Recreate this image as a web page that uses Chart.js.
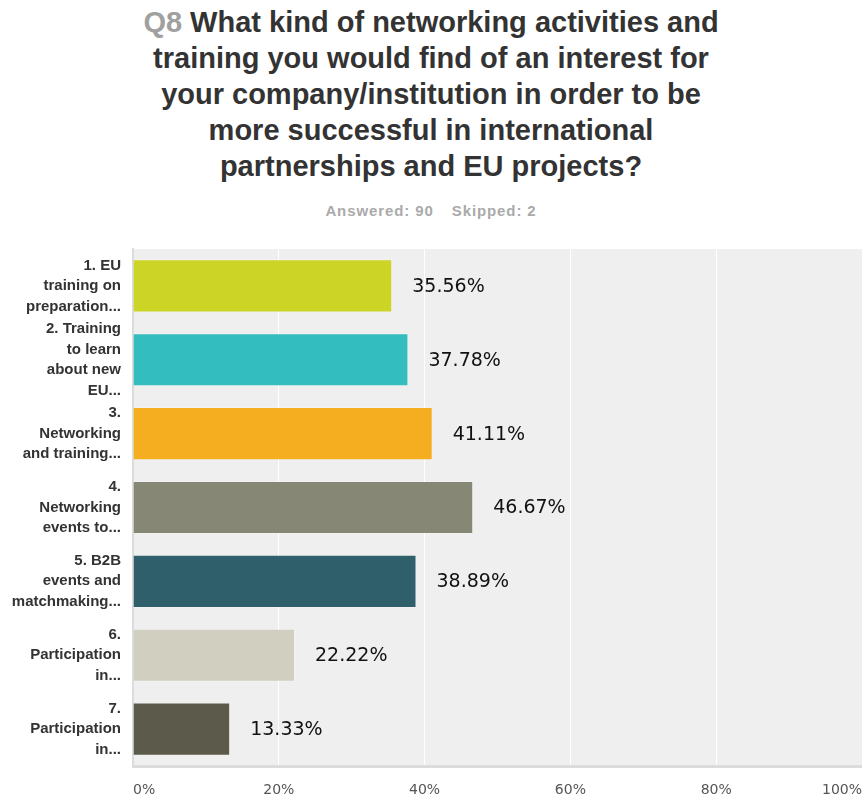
<!DOCTYPE html>
<html>
<head>
<meta charset="utf-8">
<script src="https://cdn.jsdelivr.net/npm/chart.js@4/dist/chart.umd.min.js"></script>
<style>
  html, body { margin: 0; padding: 0; background: #fff; }
  #page { position: relative; width: 862px; height: 798px; overflow: hidden; }
  #title {
    position: absolute; left: 0; top: 4px; width: 862px;
    text-align: center;
    font-family: "Liberation Sans", Arial, sans-serif;
    font-weight: bold; font-size: 29px; line-height: 36px;
    color: #333;
  }
  #title .qnum { color: #a0a0a0; }
  #stats {
    position: absolute; left: 0; top: 202px; width: 862px;
    text-align: center;
    font-family: "Liberation Sans", Arial, sans-serif;
    font-weight: bold; font-size: 15px; letter-spacing: 0.9px; color: #aaa;
  }
  #stats span + span { margin-left: 18px; }
  #wrap { position: absolute; left: 0; top: 240px; width: 862px; height: 558px; }
</style>
</head>
<body>
<div id="page">
  <div id="title"><span class="qnum">Q8</span> What kind of networking activities and<br>training you would find of an interest for<br>your company/institution in order to be<br>more successful in international<br>partnerships and EU projects?</div>
  <div id="stats"><span>Answered: 90</span><span>Skipped: 2</span></div>
  <div id="wrap"><canvas id="chart"></canvas></div>
</div>
<script>
// Answer choices (wrapped and truncated as shown on the axis)
const categories = [
  ["1. EU", "training on", "preparation..."],
  ["2. Training", "to learn", "about new", "EU..."],
  ["3.", "Networking", "and training..."],
  ["4.", "Networking", "events to..."],
  ["5. B2B", "events and", "matchmaking..."],
  ["6.", "Participation", "in..."],
  ["7.", "Participation", "in..."]
];
// Share of respondents choosing each option (%)
const percentages = [35.56, 37.78, 41.11, 46.67, 38.89, 22.22, 13.33];
const barColors = ["#ccd426", "#33bdbf", "#f5ae1f", "#878775", "#2e5f6b", "#d0cfc0", "#5b5a4b"];
const xTicks = [0, 20, 40, 60, 80, 100];

const plotBackground = {
  id: "plotBackground",
  beforeDraw(chart) {
    const { ctx, chartArea: a } = chart;
    ctx.save();
    ctx.fillStyle = "#efefef";
    ctx.fillRect(a.left, a.top, a.right - a.left, a.bottom - a.top);
    ctx.restore();
  }
};

const valueLabels = {
  id: "valueLabels",
  afterDatasetsDraw(chart) {
    const { ctx } = chart;
    const meta = chart.getDatasetMeta(0);
    ctx.save();
    ctx.font = '19px "DejaVu Sans", sans-serif';
    ctx.fillStyle = "#111";
    ctx.textAlign = "left";
    ctx.textBaseline = "middle";
    meta.data.forEach((bar, i) => {
      ctx.fillText(percentages[i].toFixed(2) + "%", bar.x + 20, bar.y + 1);
    });
    ctx.restore();
  }
};

new Chart(document.getElementById("chart"), {
  type: "bar",
  data: {
    labels: categories,
    datasets: [{
      data: percentages,
      backgroundColor: barColors,
      borderColor: "rgba(255,255,255,0.22)",
      borderWidth: 1,
      categoryPercentage: 1,
      barPercentage: 0.72
    }]
  },
  options: {
    indexAxis: "y",
    responsive: true,
    maintainAspectRatio: false,
    animation: false,
    layout: { padding: { top: 9, right: 0, bottom: 0, left: 0 } },
    plugins: {
      legend: { display: false },
      tooltip: { enabled: false }
    },
    scales: {
      x: {
        min: 0,
        max: 100,
        afterBuildTicks(scale) { scale.ticks = xTicks.map(v => ({ value: v })); },
        afterFit(scale) {
          scale.height = 32;
          scale.paddingLeft = 0;
          scale.paddingRight = 0;
        },
        grid: { color: "#ffffff", lineWidth: 1, drawTicks: false },
        border: { display: true, color: "#dcdcdc", width: 3 },
        ticks: {
          align: "inner",
          padding: 16,
          color: "#555",
          font: { family: '"DejaVu Sans", sans-serif', size: 14 },
          callback: v => v + "%"
        }
      },
      y: {
        afterFit(scale) {
          scale.width = 133;
          scale.paddingTop = 0;
          scale.paddingBottom = 0;
        },
        grid: { display: false, drawTicks: false },
        border: { display: true, color: "#dcdcdc", width: 2 },
        ticks: {
          autoSkip: false,
          padding: 12,
          color: "#333",
          font: { family: '"Liberation Sans", Arial, sans-serif', size: 15, weight: "bold", lineHeight: 1.37 }
        }
      }
    }
  },
  plugins: [plotBackground, valueLabels]
});
</script>
</body>
</html>
